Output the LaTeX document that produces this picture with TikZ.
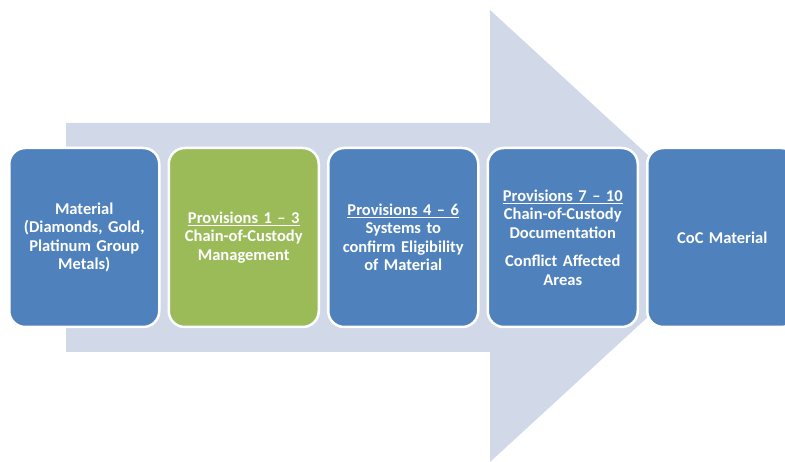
\documentclass[tikz,border=0pt]{standalone}
\usepackage{fontspec}
\setmainfont{Carlito}
\usetikzlibrary{positioning}

\definecolor{stageblue}{HTML}{4F81BD}
\definecolor{stagegreen}{HTML}{9BBB59}
\definecolor{flowgray}{HTML}{D1D9E8}

\tikzset{
  stagebox/.style={rectangle, rounded corners=16pt, draw=white, line width=2.5pt,
    fill=stageblue, text=white, minimum width=150pt, minimum height=179pt,
    text width=140pt, align=center, inner sep=0pt,
    font=\bfseries\fontsize{16.5}{18.5}\selectfont},
}

\begin{document}
\begin{tikzpicture}[x=1pt, y=-1pt]

  \useasboundingbox (0,0) rectangle (785,462);
  \clip (0,0) rectangle (785,462);

  % big flow arrow behind the stages
  \fill[flowgray] (66,123) -- (490,123) -- (490,10) -- (736,236)
    -- (490,462) -- (490,352) -- (66,352) -- cycle;

  % stages
  \node[stagebox, anchor=west] (material) at (8,237.5)
    {Material\\(Diamonds, Gold,\\Platinum Group\\Metals)};
  \node[stagebox, fill=stagegreen, right=7pt of material] (prov-a)
    {\underline{Provisions 1 – 3}\\Chain-of-Custody\\Management};
  \node[stagebox, right=7pt of prov-a] (prov-b)
    {\underline{Provisions 4 – 6}\\Systems to\\confirm Eligibility\\of Material};
  \node[stagebox, right=7pt of prov-b] (prov-c)
    {\underline{Provisions 7 – 10}\\Chain-of-Custody\\Documentation\\[10pt]Conflict Affected\\Areas};
  \node[stagebox, right=7pt of prov-c] (coc)
    {CoC Material};

\end{tikzpicture}
\end{document}
